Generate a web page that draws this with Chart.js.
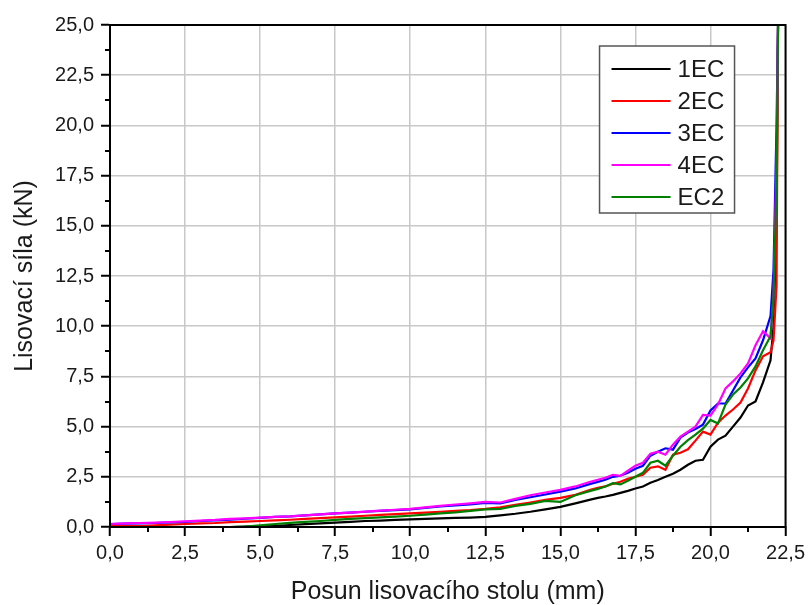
<!DOCTYPE html>
<html>
<head>
<meta charset="utf-8">
<script src="https://cdn.jsdelivr.net/npm/chart.js@4.4.1/dist/chart.umd.min.js"></script>
<style>
  html, body { margin: 0; padding: 0; background: #fff; }
  #wrap { width: 810px; height: 605px; }
</style>
</head>
<body>
<div id="wrap"><canvas id="c" width="810" height="605"></canvas></div>
<script>
// ---- data ----
const xs = [0,0.5,1,1.5,2,2.5,3,3.5,4,4.5,5,5.5,6,6.5,7,7.5,8,8.5,9,9.5,10,10.5,11,11.5,12,12.5,13,13.5,14,14.5,15,15.5,16,
  16.25,16.5,16.75,17,17.25,17.5,17.75,18,18.25,18.5,18.75,19,19.25,19.5,19.75,20,20.25,20.5,20.75,21,21.25,21.5,21.75,22,
  22.1,22.2,22.25];

const s1EC = [0,0,0,0,0,0,0,0,0,0.02,0.04,0.06,0.1,0.14,0.18,0.22,0.26,0.3,0.32,0.35,0.38,0.4,0.43,0.45,0.47,0.5,0.58,0.66,0.76,0.88,1.0,1.18,1.36,
  1.45,1.52,1.6,1.7,1.8,1.92,2.02,2.2,2.34,2.5,2.65,2.85,3.1,3.3,3.35,4.0,4.35,4.55,5.0,5.45,6.05,6.25,7.2,8.3,
  10.0,15,25];
const s2EC = [0.05,0.05,0.05,0.08,0.12,0.15,0.18,0.2,0.24,0.27,0.3,0.33,0.36,0.4,0.44,0.48,0.52,0.56,0.6,0.64,0.68,0.72,0.76,0.8,0.84,0.9,0.98,1.1,1.22,1.35,1.45,1.6,1.85,
  1.95,2.02,2.15,2.25,2.4,2.5,2.6,2.95,3.02,2.85,3.6,3.7,3.87,4.3,4.75,4.6,5.2,5.55,5.85,6.2,6.9,7.8,8.5,8.7,
  9.3,12,25];
const s3EC = [0.15,0.17,0.18,0.2,0.23,0.26,0.3,0.33,0.37,0.41,0.45,0.5,0.53,0.58,0.63,0.68,0.72,0.76,0.8,0.84,0.88,0.95,1.02,1.08,1.12,1.2,1.18,1.35,1.48,1.62,1.76,1.92,2.15,
  2.25,2.35,2.5,2.55,2.7,2.9,3.05,3.55,3.75,3.92,3.85,4.45,4.7,4.88,5.1,5.8,6.15,6.15,6.8,7.45,7.95,8.4,9.3,10.5,
  12.8,20,25];
const s4EC = [0.15,0.18,0.2,0.22,0.25,0.28,0.32,0.35,0.4,0.43,0.47,0.5,0.53,0.58,0.63,0.68,0.72,0.77,0.82,0.86,0.9,0.98,1.05,1.12,1.18,1.25,1.22,1.4,1.58,1.72,1.85,2.02,2.25,
  2.35,2.45,2.6,2.55,2.8,3.05,3.2,3.65,3.75,3.6,4.1,4.5,4.75,5.0,5.58,5.55,6.1,6.9,7.25,7.65,8.15,9.05,9.75,9.4,
  11.5,18,25];
const sEC2 = [0,0,0,0,0,0,0,0,0,0.02,0.08,0.15,0.21,0.26,0.3,0.35,0.4,0.44,0.48,0.52,0.56,0.62,0.68,0.73,0.8,0.88,0.9,1.05,1.15,1.3,1.25,1.58,1.8,
  1.9,2.02,2.18,2.12,2.3,2.5,2.7,3.2,3.3,3.05,3.55,4.0,4.33,4.6,4.9,5.33,5.15,6.1,6.6,6.95,7.4,8.0,8.8,9.5,
  11.5,17,25];

const seriesNames = ['1EC','2EC','3EC','4EC','EC2'];
const seriesColors = ['#000000','#ff0000','#0000ff','#ff00ff','#008000'];
const seriesValues = [s1EC, s2EC, s3EC, s4EC, sEC2];

const xTickStep = 2.5, yTickStep = 2.5;
const xMin = 0, xMax = 22.5, yMin = 0, yMax = 25;
const xTitle = 'Posun lisovacího stolu (mm)';
const yTitle = 'Lisovací síla (kN)';

const FONT = "'Liberation Sans', Arial, Helvetica, sans-serif";
const fmt = v => Number(v).toFixed(1).replace('.', ',');

const datasets = seriesNames.map((name, i) => ({
  label: name,
  data: xs.map((x, k) => ({ x: x, y: seriesValues[i][k] })),
  borderColor: seriesColors[i],
  backgroundColor: seriesColors[i],
  borderWidth: 2.2,
  pointRadius: 0,
  tension: 0,
  fill: false,
  order: seriesNames.length - i
}));

const framePlugin = {
  id: 'frame',
  afterDraw(chart) {
    const { ctx, chartArea: a, scales } = chart;
    const xs_ = scales.x, ys_ = scales.y;
    ctx.save();
    ctx.strokeStyle = '#000';
    ctx.lineWidth = 2;
    // minor ticks
    ctx.beginPath();
    for (let v = xMin + xTickStep / 2; v < xMax; v += xTickStep) {
      const p = Math.round(xs_.getPixelForValue(v));
      ctx.moveTo(p, a.bottom); ctx.lineTo(p, a.bottom + 5);
    }
    for (let v = yMin + yTickStep / 2; v < yMax; v += yTickStep) {
      const p = Math.round(ys_.getPixelForValue(v));
      ctx.moveTo(a.left, p); ctx.lineTo(a.left - 5, p);
    }
    ctx.stroke();
    // frame box
    ctx.strokeRect(a.left, a.top, a.right - a.left, a.bottom - a.top);

    // legend
    const bx = a.right - 186, by = a.top + 21, bw = 135, bh = 167;
    ctx.fillStyle = '#fff';
    ctx.fillRect(bx, by, bw, bh);
    ctx.strokeStyle = '#555';
    ctx.lineWidth = 1.5;
    ctx.strokeRect(bx, by, bw, bh);
    ctx.font = '24px ' + FONT;
    ctx.textBaseline = 'middle';
    ctx.textAlign = 'left';
    chart.data.datasets.forEach((ds, i) => {
      const yy = by + 23 + i * 32;
      ctx.strokeStyle = ds.borderColor;
      ctx.lineWidth = 2;
      ctx.beginPath();
      ctx.moveTo(bx + 12, yy); ctx.lineTo(bx + 71, yy);
      ctx.stroke();
      ctx.fillStyle = '#1a1a1a';
      ctx.fillText(ds.label, bx + 78, yy + 1);
    });
    ctx.restore();
  }
};

new Chart(document.getElementById('c'), {
  type: 'line',
  data: { datasets },
  options: {
    responsive: false,
    animation: false,
    devicePixelRatio: 1,
    layout: { padding: { top: 25, right: 22, left: 0, bottom: 0 } },
    plugins: { legend: { display: false }, tooltip: { enabled: false } },
    scales: {
      x: {
        type: 'linear', min: xMin, max: xMax,
        ticks: { stepSize: xTickStep, padding: 5, color: '#1a1a1a', font: { family: FONT, size: 20 },
                 callback: v => fmt(v), maxRotation: 0, autoSkip: false },
        grid: { color: '#c8c8c8', lineWidth: 1.5, tickLength: 9, tickColor: '#000', tickWidth: 2 },
        border: { color: '#000', width: 2 },
        title: { display: true, text: xTitle, color: '#1a1a1a', font: { family: FONT, size: 25 }, padding: { top: 0, bottom: -2 } },
        afterFit(s) { s.height = 78; }
      },
      y: {
        type: 'linear', min: yMin, max: yMax,
        ticks: { stepSize: yTickStep, padding: 7, color: '#1a1a1a', font: { family: FONT, size: 20 },
                 callback: v => fmt(v), autoSkip: false },
        grid: { color: '#c8c8c8', lineWidth: 1.5, tickLength: 9, tickColor: '#000', tickWidth: 2 },
        border: { color: '#000', width: 2 },
        title: { display: true, text: yTitle, color: '#1a1a1a', font: { family: FONT, size: 25 }, padding: { top: 10, bottom: 0 } },
        afterFit(s) { s.width = 110; }
      }
    }
  },
  plugins: [framePlugin]
});
</script>
</body>
</html>
